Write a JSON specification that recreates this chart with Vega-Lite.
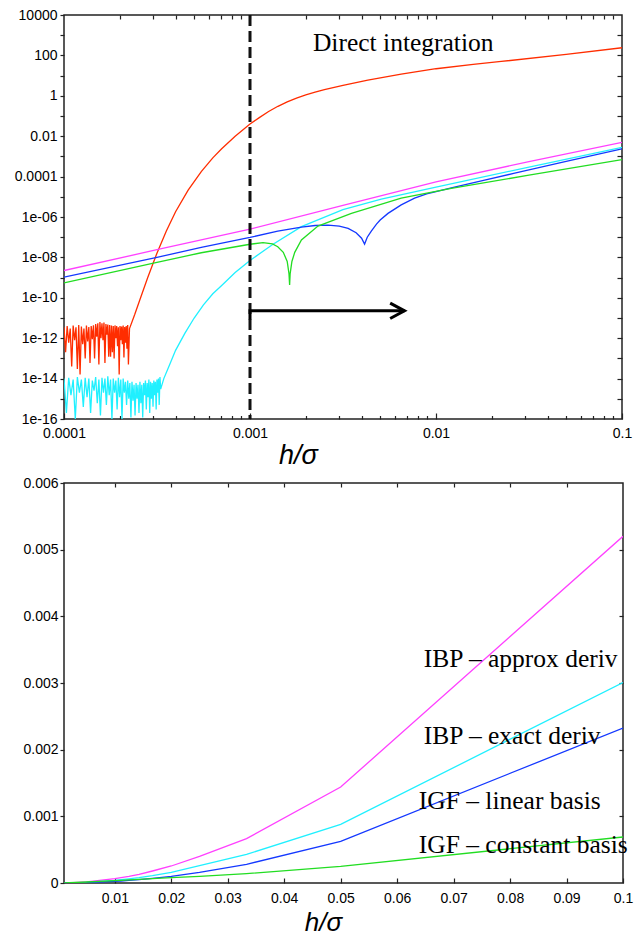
{
  "$schema": "https://vega.github.io/schema/vega-lite/v6.json",
  "padding": {"left": 0, "top": 7, "right": 0, "bottom": 0},
  "background": "white",
  "config": {
    "view": {"stroke": "#222", "strokeWidth": 1.5},
    "axis": {"grid": false, "domain": false, "labelFont": "Liberation Sans", "labelFontSize": 14, "labelColor": "#000", "tickColor": "#222", "tickWidth": 1.2, "labelOverlap": false, "labelFlush": false, "titleFont": "Liberation Sans", "titleFontSize": 27, "titleFontWeight": "normal", "titleFontStyle": "italic", "titleColor": "#000"}
  },
  "datasets": {
    "top": [
      {"s":"d","x":0.0001,"y":3.5e-12},{"s":"d","x":0.000102,"y":2e-13},{"s":"d","x":0.000104,"y":4e-12},{"s":"d","x":0.000106,"y":6e-13},{"s":"d","x":0.000108,"y":3e-12},{"s":"d","x":0.00011,"y":4e-14},{"s":"d","x":0.000112,"y":4.2e-12},{"s":"d","x":0.000114,"y":8e-13},{"s":"d","x":0.000116,"y":3.5e-12},{"s":"d","x":0.000118,"y":3e-14},{"s":"d","x":0.00012,"y":4.5e-12},{"s":"d","x":0.000122,"y":1.6e-14},{"s":"d","x":0.000124,"y":3.8e-12},{"s":"d","x":0.000126,"y":5e-13},{"s":"d","x":0.000128,"y":3e-12},{"s":"d","x":0.00013,"y":1e-13},{"s":"d","x":0.000132,"y":4.2e-12},{"s":"d","x":0.000134,"y":7e-13},{"s":"d","x":0.000136,"y":3.6e-12},{"s":"d","x":0.000138,"y":6e-14},{"s":"d","x":0.00014,"y":4e-12},{"s":"d","x":0.000142,"y":9e-13},{"s":"d","x":0.000144,"y":4.4e-12},{"s":"d","x":0.000146,"y":1e-13},{"s":"d","x":0.000148,"y":5e-12},{"s":"d","x":0.00015,"y":1.2e-12},{"s":"d","x":0.000152,"y":5.5e-12},{"s":"d","x":0.000154,"y":5e-14},{"s":"d","x":0.000156,"y":6.3e-12},{"s":"d","x":0.000158,"y":1e-12},{"s":"d","x":0.00016,"y":5.5e-12},{"s":"d","x":0.000162,"y":8e-13},{"s":"d","x":0.000164,"y":6e-12},{"s":"d","x":0.000166,"y":6e-14},{"s":"d","x":0.000168,"y":5e-12},{"s":"d","x":0.00017,"y":1.5e-12},{"s":"d","x":0.000172,"y":4.8e-12},{"s":"d","x":0.000174,"y":1.2e-13},{"s":"d","x":0.000176,"y":4.5e-12},{"s":"d","x":0.000178,"y":1.2e-13},{"s":"d","x":0.00018,"y":4.2e-12},{"s":"d","x":0.000182,"y":2e-13},{"s":"d","x":0.000184,"y":4e-12},{"s":"d","x":0.000186,"y":1e-13},{"s":"d","x":0.000188,"y":4.3e-12},{"s":"d","x":0.00019,"y":1e-12},{"s":"d","x":0.000192,"y":4e-12},{"s":"d","x":0.000194,"y":4e-13},{"s":"d","x":0.000196,"y":3.5e-12},{"s":"d","x":0.000198,"y":1.6e-14},{"s":"d","x":0.0002,"y":4e-12},{"s":"d","x":0.000202,"y":8e-13},{"s":"d","x":0.000204,"y":3.8e-12},{"s":"d","x":0.000206,"y":5e-13},{"s":"d","x":0.000208,"y":4.2e-12},{"s":"d","x":0.00021,"y":1.1e-13},{"s":"d","x":0.000212,"y":3.6e-12},{"s":"d","x":0.000214,"y":6e-13},{"s":"d","x":0.000216,"y":4e-12},{"s":"d","x":0.000218,"y":3e-13},{"s":"d","x":0.00022,"y":4.5e-12},{"s":"d","x":0.000222,"y":5e-14},{"s":"d","x":0.000225,"y":3e-12},
      {"s":"d","x":0.00024,"y":1.48e-11},{"s":"d","x":0.000255,"y":7.41e-11},{"s":"d","x":0.000282,"y":1.02e-9},{"s":"d","x":0.000316,"y":1.62e-8},{"s":"d","x":0.000355,"y":2.04e-7},{"s":"d","x":0.000398,"y":1.82e-6},{"s":"d","x":0.000465,"y":2.14e-5},{"s":"d","x":0.000547,"y":1.78e-4},{"s":"d","x":0.000631,"y":8.51e-4},{"s":"d","x":0.000702,"y":2.34e-3},{"s":"d","x":0.000832,"y":0.01},{"s":"d","x":0.001,"y":0.0398},{"s":"d","x":0.001122,"y":0.0832},{"s":"d","x":0.001259,"y":0.166},{"s":"d","x":0.001413,"y":0.302},{"s":"d","x":0.001585,"y":0.501},{"s":"d","x":0.001778,"y":0.776},{"s":"d","x":0.001995,"y":1.122},{"s":"d","x":0.002239,"y":1.514},{"s":"d","x":0.002512,"y":1.995},{"s":"d","x":0.003162,"y":3.311},{"s":"d","x":0.0043,"y":6.026},{"s":"d","x":0.0065,"y":11.75},{"s":"d","x":0.01,"y":21.88},{"s":"d","x":0.01585,"y":36.31},{"s":"d","x":0.02244,"y":50.12},{"s":"d","x":0.0501,"y":112.2},{"s":"d","x":0.1,"y":239.9},
      {"s":"c","x":0.0001,"y":1e-14},{"s":"c","x":0.000103,"y":2e-16},{"s":"c","x":0.000106,"y":1.1e-14},{"s":"c","x":0.000109,"y":1.5e-15},{"s":"c","x":0.000112,"y":9e-15},{"s":"c","x":0.000115,"y":1e-16},{"s":"c","x":0.000118,"y":1.2e-14},{"s":"c","x":0.000121,"y":2e-15},{"s":"c","x":0.000124,"y":9e-15},{"s":"c","x":0.000127,"y":4e-16},{"s":"c","x":0.00013,"y":1.1e-14},{"s":"c","x":0.000133,"y":1.2e-15},{"s":"c","x":0.000136,"y":1e-14},{"s":"c","x":0.000139,"y":2e-16},{"s":"c","x":0.000142,"y":8e-15},{"s":"c","x":0.000145,"y":2.5e-15},{"s":"c","x":0.000148,"y":1.2e-14},{"s":"c","x":0.000151,"y":6e-16},{"s":"c","x":0.000154,"y":9e-15},{"s":"c","x":0.000157,"y":1.5e-16},{"s":"c","x":0.00016,"y":1.1e-14},{"s":"c","x":0.000163,"y":2e-15},{"s":"c","x":0.000166,"y":1e-14},{"s":"c","x":0.000169,"y":5e-16},{"s":"c","x":0.000172,"y":1.3e-14},{"s":"c","x":0.000175,"y":1.5e-15},{"s":"c","x":0.000178,"y":9e-15},{"s":"c","x":0.000181,"y":1e-16},{"s":"c","x":0.000184,"y":1e-14},{"s":"c","x":0.000187,"y":2e-15},{"s":"c","x":0.00019,"y":8e-15},{"s":"c","x":0.000193,"y":3e-16},{"s":"c","x":0.000196,"y":1.1e-14},{"s":"c","x":0.000199,"y":1.2e-15},{"s":"c","x":0.000202,"y":9e-15},{"s":"c","x":0.000205,"y":1e-16},{"s":"c","x":0.000208,"y":1e-14},{"s":"c","x":0.000211,"y":2e-15},{"s":"c","x":0.000214,"y":7e-15},{"s":"c","x":0.000217,"y":5e-16},{"s":"c","x":0.00022,"y":8e-15},{"s":"c","x":0.000223,"y":1e-15},{"s":"c","x":0.000226,"y":6e-15},{"s":"c","x":0.000229,"y":1.2e-16},{"s":"c","x":0.000232,"y":7e-15},{"s":"c","x":0.000235,"y":8e-16},{"s":"c","x":0.000238,"y":5e-15},{"s":"c","x":0.000241,"y":1.5e-16},{"s":"c","x":0.000244,"y":6e-15},{"s":"c","x":0.000247,"y":1e-15},{"s":"c","x":0.00025,"y":5e-15},{"s":"c","x":0.000253,"y":2e-16},{"s":"c","x":0.000256,"y":7e-15},{"s":"c","x":0.000259,"y":6e-16},{"s":"c","x":0.000262,"y":5e-15},{"s":"c","x":0.000265,"y":1.2e-16},{"s":"c","x":0.000268,"y":6e-15},{"s":"c","x":0.000271,"y":1.5e-15},{"s":"c","x":0.000274,"y":8e-15},{"s":"c","x":0.000277,"y":3e-16},{"s":"c","x":0.00028,"y":6e-15},{"s":"c","x":0.000283,"y":1.2e-15},{"s":"c","x":0.000286,"y":9e-15},{"s":"c","x":0.000289,"y":2e-16},{"s":"c","x":0.000292,"y":7e-15},{"s":"c","x":0.000295,"y":1e-15},{"s":"c","x":0.000298,"y":6e-15},{"s":"c","x":0.000301,"y":4e-16},{"s":"c","x":0.000304,"y":8e-15},{"s":"c","x":0.000307,"y":1.5e-15},{"s":"c","x":0.00031,"y":7e-15},{"s":"c","x":0.000313,"y":3e-16},{"s":"c","x":0.000316,"y":9e-15},{"s":"c","x":0.000319,"y":2e-15},{"s":"c","x":0.000322,"y":1e-14},{"s":"c","x":0.000325,"y":5e-16},{"s":"c","x":0.000328,"y":1.2e-14},{"s":"c","x":0.000331,"y":3e-15},
      {"s":"c","x":0.000344,"y":1e-14},{"s":"c","x":0.000372,"y":5.6e-14},{"s":"c","x":0.000398,"y":2.5e-13},{"s":"c","x":0.000447,"y":1.78e-12},{"s":"c","x":0.000501,"y":1e-11},{"s":"c","x":0.000562,"y":4.47e-11},{"s":"c","x":0.000631,"y":1.585e-10},{"s":"c","x":0.000702,"y":3.98e-10},{"s":"c","x":0.000832,"y":1.78e-9},{"s":"c","x":0.001,"y":7.08e-9},{"s":"c","x":0.00133,"y":4.47e-8},{"s":"c","x":0.00189,"y":3.31e-7},{"s":"c","x":0.00316,"y":2.29e-6},{"s":"c","x":0.00508,"y":7.76e-6},{"s":"c","x":0.01,"y":3.02e-5},{"s":"c","x":0.0316,"y":2.95e-4},{"s":"c","x":0.1,"y":2.82e-3},
      {"s":"m","x":0.0001,"y":2.24e-9},{"s":"m","x":0.000316,"y":2.4e-8},{"s":"m","x":0.001,"y":2.51e-7},{"s":"m","x":0.00316,"y":3.72e-6},{"s":"m","x":0.01,"y":5.5e-5},{"s":"m","x":0.0316,"y":5.5e-4},{"s":"m","x":0.1,"y":5.01e-3},
      {"s":"b","x":0.0001,"y":1.05e-9},{"s":"b","x":0.000316,"y":1e-8},{"s":"b","x":0.000547,"y":3.16e-8},{"s":"b","x":0.001,"y":9.77e-8},{"s":"b","x":0.00141,"y":2.0e-7},{"s":"b","x":0.00189,"y":3.16e-7},{"s":"b","x":0.00224,"y":3.8e-7},{"s":"b","x":0.00263,"y":3.98e-7},{"s":"b","x":0.00302,"y":3.55e-7},{"s":"b","x":0.00337,"y":2.75e-7},{"s":"b","x":0.00372,"y":1.66e-7},{"s":"b","x":0.00398,"y":8.9e-8},{"s":"b","x":0.00413,"y":4.57e-8},{"s":"b","x":0.00427,"y":1e-7},{"s":"b","x":0.00449,"y":2.0e-7},{"s":"b","x":0.004786,"y":4.47e-7},{"s":"b","x":0.00501,"y":7.08e-7},{"s":"b","x":0.00552,"y":1.51e-6},{"s":"b","x":0.0065,"y":3.98e-6},{"s":"b","x":0.00767,"y":8.51e-6},{"s":"b","x":0.00891,"y":1.38e-5},{"s":"b","x":0.01,"y":1.82e-5},{"s":"b","x":0.01208,"y":2.75e-5},{"s":"b","x":0.01778,"y":6.31e-5},{"s":"b","x":0.02649,"y":1.48e-4},{"s":"b","x":0.0501,"y":5.62e-4},{"s":"b","x":0.1,"y":2.34e-3},
      {"s":"g","x":0.0001,"y":5.5e-10},{"s":"g","x":0.000316,"y":5.62e-9},{"s":"g","x":0.000547,"y":1.7e-8},{"s":"g","x":0.001,"y":4.47e-8},{"s":"g","x":0.001175,"y":5.37e-8},{"s":"g","x":0.00132,"y":4.68e-8},{"s":"g","x":0.00141,"y":3.39e-8},{"s":"g","x":0.00151,"y":1.78e-8},{"s":"g","x":0.001585,"y":6.3e-9},{"s":"g","x":0.00162,"y":1.585e-9},{"s":"g","x":0.001633,"y":4.27e-10},{"s":"g","x":0.001644,"y":1.585e-9},{"s":"g","x":0.00168,"y":6.3e-9},{"s":"g","x":0.00174,"y":1.78e-8},{"s":"g","x":0.00189,"y":7.24e-8},{"s":"g","x":0.00232,"y":3.55e-7},{"s":"g","x":0.00351,"y":1.51e-6},{"s":"g","x":0.0065,"y":8.51e-6},{"s":"g","x":0.01208,"y":2.63e-5},{"s":"g","x":0.0316,"y":1.175e-4},{"s":"g","x":0.1,"y":6.92e-4}
    ],
    "arrow": [
      {"seg":"t","i":0,"x":0.001,"y":8.5e-12},{"seg":"t","i":1,"x":0.001,"y":2.26e-11},{"seg":"t","i":2,"x":0.00677,"y":2.26e-11},
      {"seg":"h","i":0,"x":0.00567,"y":5.46e-11},{"seg":"h","i":1,"x":0.00677,"y":2.26e-11},{"seg":"h","i":2,"x":0.00567,"y":9.5e-12}
    ],
    "ttext": [{"label":"Direct integration","x":0.00218,"y":160}],
    "bot": [
      {"s":"m","x":0.001,"y":0.0000006},{"s":"m","x":0.002,"y":0.0000026},{"s":"m","x":0.005,"y":0.000016},{"s":"m","x":0.01,"y":0.000065},{"s":"m","x":0.01111,"y":0.00008},{"s":"m","x":0.0125,"y":0.0001},{"s":"m","x":0.01429,"y":0.00013},{"s":"m","x":0.01667,"y":0.00018},{"s":"m","x":0.02,"y":0.000255},{"s":"m","x":0.025,"y":0.0004},{"s":"m","x":0.03333,"y":0.000666},{"s":"m","x":0.05,"y":0.00144},{"s":"m","x":0.1,"y":0.0052},
      {"s":"c","x":0.001,"y":0.0000004},{"s":"c","x":0.002,"y":0.0000016},{"s":"c","x":0.005,"y":0.00001},{"s":"c","x":0.01,"y":0.00004},{"s":"c","x":0.01111,"y":0.00005},{"s":"c","x":0.0125,"y":0.000062},{"s":"c","x":0.01429,"y":0.00008},{"s":"c","x":0.01667,"y":0.00011},{"s":"c","x":0.02,"y":0.00016},{"s":"c","x":0.025,"y":0.00026},{"s":"c","x":0.03333,"y":0.00043},{"s":"c","x":0.05,"y":0.00088},{"s":"c","x":0.1,"y":0.003006},
      {"s":"b","x":0.001,"y":0.0000003},{"s":"b","x":0.002,"y":0.000001},{"s":"b","x":0.005,"y":0.000006},{"s":"b","x":0.01,"y":0.000025},{"s":"b","x":0.01111,"y":0.00003},{"s":"b","x":0.0125,"y":0.00004},{"s":"b","x":0.01429,"y":0.00005},{"s":"b","x":0.01667,"y":0.00007},{"s":"b","x":0.02,"y":0.0001},{"s":"b","x":0.025,"y":0.00016},{"s":"b","x":0.03333,"y":0.00028},{"s":"b","x":0.05,"y":0.000625},{"s":"b","x":0.1,"y":0.002325},
      {"s":"g","x":0.001,"y":0.0000025},{"s":"g","x":0.002,"y":0.000005},{"s":"g","x":0.005,"y":0.000015},{"s":"g","x":0.01,"y":0.000035},{"s":"g","x":0.01111,"y":0.00004},{"s":"g","x":0.0125,"y":0.000047},{"s":"g","x":0.01429,"y":0.000055},{"s":"g","x":0.01667,"y":0.000065},{"s":"g","x":0.02,"y":0.00008},{"s":"g","x":0.025,"y":0.0001},{"s":"g","x":0.03333,"y":0.00014},{"s":"g","x":0.05,"y":0.00025},{"s":"g","x":0.1,"y":0.00069}
    ],
    "btext": [
      {"label":"IBP – approx deriv","x":0.06472,"y":0.00324},
      {"label":"IBP – exact deriv","x":0.06472,"y":0.002091},
      {"label":"IGF – linear basis","x":0.06383,"y":0.001116},
      {"label":"IGF – constant basis","x":0.06383,"y":0.000456}
    ]
  },
  "concat": [
    {
      "width": 558,
      "height": 404,
      "resolve": {"axis": {"x": "independent", "y": "independent"}},
      "layer": [
        {
          "data": {"name": "top"},
          "mark": {"type": "line", "strokeWidth": 1.3, "clip": true},
          "encoding": {
            "x": {"field": "x", "type": "quantitative", "scale": {"type": "log", "domain": [0.0001, 0.1], "nice": false},
              "axis": {"orient": "bottom", "values": [0.0001, 0.001, 0.01, 0.1], "tickSize": -6, "labelPadding": 13, "labelExpr": "format(datum.value, '~f')", "title": "h/σ", "titleX": 234, "titleY": 44, "titleBaseline": "alphabetic", "titleAlign": "center"}},
            "y": {"field": "y", "type": "quantitative", "scale": {"type": "log", "domain": [1e-16, 10000], "nice": false},
              "axis": {"orient": "left", "values": [10000, 1000, 100, 10, 1, 0.1, 0.01, 0.001, 0.0001, 1e-5, 1e-6, 1e-7, 1e-8, 1e-9, 1e-10, 1e-11, 1e-12, 1e-13, 1e-14, 1e-15, 1e-16], "tickSize": 4, "labelPadding": 3, "minExtent": 63, "maxExtent": 63, "title": null,
                "labelExpr": "(round(log(datum.value)/LN10) % 2 != 0) ? '' : (round(log(datum.value)/LN10) >= -4 ? format(datum.value, '~f') : (round(log(datum.value)/LN10) > -10 ? '1e-0' + (-round(log(datum.value)/LN10)) : '1e' + round(log(datum.value)/LN10)))"}},
            "color": {"field": "s", "type": "nominal", "scale": {"domain": ["d", "m", "c", "b", "g"], "range": ["#ff2d00", "#ff40ff", "#20f0ff", "#1438ff", "#22dd22"]}, "legend": null}
          }
        },
        {
          "data": {"values": [{}]},
          "mark": {"type": "rule", "strokeDash": [11, 5], "strokeWidth": 3, "color": "#111"},
          "encoding": {"x": {"datum": 0.001, "type": "quantitative", "axis": null}}
        },
        {
          "data": {"name": "arrow"},
          "mark": {"type": "line", "strokeWidth": 3, "color": "#000", "strokeJoin": "miter"},
          "encoding": {
            "x": {"field": "x", "type": "quantitative", "axis": {"orient": "top", "values": [0.0002,0.0003,0.0004,0.0005,0.0006,0.0007,0.0008,0.0009,0.001,0.002,0.003,0.004,0.005,0.006,0.007,0.008,0.009,0.01,0.02,0.03,0.04,0.05,0.06,0.07,0.08,0.09], "tickSize": -4, "labels": false, "title": null}},
            "y": {"field": "y", "type": "quantitative", "axis": {"orient": "right", "values": [1000, 100, 10, 1, 0.1, 0.01, 0.001, 0.0001, 1e-5, 1e-6, 1e-7, 1e-8, 1e-9, 1e-10, 1e-11, 1e-12, 1e-13, 1e-14, 1e-15], "tickSize": -5, "labels": false, "title": null}},
            "detail": {"field": "seg"},
            "order": {"field": "i"}
          }
        },
        {
          "data": {"name": "ttext"},
          "mark": {"type": "text", "font": "Liberation Serif", "fontSize": 25.5, "align": "left", "baseline": "alphabetic", "color": "#000"},
          "encoding": {
            "x": {"field": "x", "type": "quantitative", "axis": {"orient": "bottom", "values": [0.0002,0.0003,0.0004,0.0005,0.0006,0.0007,0.0008,0.0009,0.002,0.003,0.004,0.005,0.006,0.007,0.008,0.009,0.02,0.03,0.04,0.05,0.06,0.07,0.08,0.09], "tickSize": -3.5, "labels": false, "title": null}},
            "y": {"field": "y", "type": "quantitative", "axis": null},
            "text": {"field": "label"}
          }
        }
      ]
    },
    {
      "width": 559,
      "height": 400,
      "resolve": {"axis": {"x": "independent", "y": "independent"}},
      "layer": [
        {
          "data": {"name": "bot"},
          "mark": {"type": "line", "strokeWidth": 1.3, "clip": true},
          "encoding": {
            "x": {"field": "x", "type": "quantitative", "scale": {"domain": [0.001, 0.1], "nice": false, "zero": false},
              "axis": {"orient": "bottom", "values": [0.01, 0.02, 0.03, 0.04, 0.05, 0.06, 0.07, 0.08, 0.09, 0.1], "format": "~g", "tickSize": -5, "labelPadding": 13.5, "title": "h/σ", "titleX": 259, "titleY": 47, "titleFontSize": 26, "titleBaseline": "alphabetic", "titleAlign": "center"}},
            "y": {"field": "y", "type": "quantitative", "scale": {"domain": [0, 0.006], "nice": false},
              "axis": {"orient": "left", "values": [0, 0.001, 0.002, 0.003, 0.004, 0.005, 0.006], "format": "~g", "tickSize": 4, "labelPadding": 2, "minExtent": 58, "maxExtent": 58, "title": null}},
            "color": {"field": "s", "type": "nominal", "scale": {"domain": ["d", "m", "c", "b", "g"], "range": ["#ff2d00", "#ff40ff", "#20f0ff", "#1438ff", "#22dd22"]}, "legend": null}
          }
        },
        {
          "data": {"name": "btext"},
          "mark": {"type": "text", "font": "Liberation Serif", "fontSize": 25.5, "align": "left", "baseline": "alphabetic", "color": "#000"},
          "encoding": {
            "x": {"field": "x", "type": "quantitative", "axis": {"orient": "top", "values": [0.01, 0.02, 0.03, 0.04, 0.05, 0.06, 0.07, 0.08, 0.09], "tickSize": -4, "labels": false, "title": null}},
            "y": {"field": "y", "type": "quantitative", "axis": {"orient": "right", "values": [0.001, 0.002, 0.003, 0.004, 0.005], "tickSize": -4, "labels": false, "title": null}},
            "text": {"field": "label"}
          }
        }
      ]
    }
  ],
  "columns": 1,
  "align": "none",
  "spacing": 6
}
